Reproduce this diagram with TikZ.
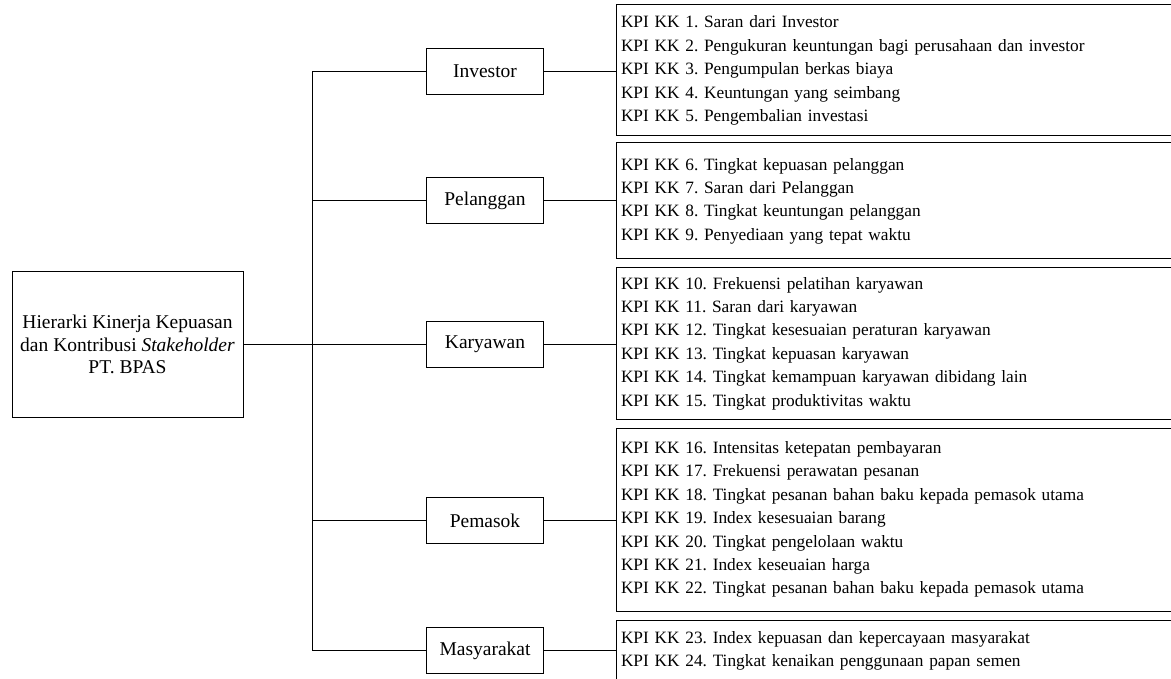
\documentclass[tikz,border=0pt]{standalone}
\usepackage{fontspec}
\setmainfont{Liberation Serif}
\frenchspacing
\begin{document}
\begin{tikzpicture}[x=1pt,y=-1pt,
  line width=1pt,
  rootbox/.style={draw, minimum width=231pt, minimum height=146pt, align=center, inner sep=0pt, font=\fontsize{19.5}{22.5}\selectfont},
  catbox/.style={draw, minimum width=117pt, minimum height=46pt, inner sep=0pt, font=\fontsize{19.5}{22.5}\selectfont},
  kpibox/.style={draw, anchor=north west, text width=560pt, align=left, inner xsep=5pt, inner ysep=0pt, font=\fontsize{17.3}{23.4}\selectfont},
  link/.style={line width=1pt}]
\clip (0,0) rectangle (1171,679);

% root
\node[rootbox] (root) at (127.5,344.5) {Hierarki Kinerja Kepuasan\\dan Kontribusi \textit{Stakeholder}\\PT. BPAS};

% categories
\node[catbox] (inv) at (485,71.5) {Investor};
\node[catbox] (pel) at (485,200.5) {Pelanggan};
\node[catbox] (kar) at (485,344.5) {Karyawan};
\node[catbox] (pem) at (485,520.5) {Pemasok};
\node[catbox] (mas) at (485,650.5) {Masyarakat};

% KPI boxes
\node[kpibox, minimum height=131pt] (k1) at (615.5,4.5) {KPI KK 1. Saran dari Investor\\
KPI KK 2. Pengukuran keuntungan bagi perusahaan dan investor\\
KPI KK 3. Pengumpulan berkas biaya\\
KPI KK 4. Keuntungan yang seimbang\\
KPI KK 5. Pengembalian investasi};

\node[kpibox, minimum height=116pt] (k2) at (615.5,142.5) {KPI KK 6. Tingkat kepuasan pelanggan\\
KPI KK 7. Saran dari Pelanggan\\
KPI KK 8. Tingkat keuntungan pelanggan\\
KPI KK 9. Penyediaan yang tepat waktu};

\node[kpibox, minimum height=151pt] (k3) at (615.5,267.5) {KPI KK 10. Frekuensi pelatihan karyawan\\
KPI KK 11. Saran dari karyawan\\
KPI KK 12. Tingkat kesesuaian peraturan karyawan\\
KPI KK 13. Tingkat kepuasan karyawan\\
KPI KK 14. Tingkat kemampuan karyawan dibidang lain\\
KPI KK 15. Tingkat produktivitas waktu};

\node[kpibox, minimum height=183pt] (k4) at (615.5,427.5) {KPI KK 16. Intensitas ketepatan pembayaran\\
KPI KK 17. Frekuensi perawatan pesanan\\
KPI KK 18. Tingkat pesanan bahan baku kepada pemasok utama\\
KPI KK 19. Index kesesuaian barang\\
KPI KK 20. Tingkat pengelolaan waktu\\
KPI KK 21. Index keseuaian harga\\
KPI KK 22. Tingkat pesanan bahan baku kepada pemasok utama};

\node[kpibox, minimum height=62pt] (k5) at (615.5,619.5) {KPI KK 23. Index kepuasan dan kepercayaan masyarakat\\
KPI KK 24. Tingkat kenaikan penggunaan papan semen};

% trunk
\coordinate (ttop) at (312.5,71.5);
\coordinate (tbot) at (312.5,650.5);
\draw[link] (ttop) -- (tbot);
\draw[link] (root.east) -- (root.east -| ttop);

% branches
\foreach \c in {inv,pel,kar,pem,mas}{
  \draw[link] (\c.west -| ttop) -- (\c.west);
}
\draw[link] (inv.east) -- (inv.east -| k1.west);
\draw[link] (pel.east) -- (pel.east -| k2.west);
\draw[link] (kar.east) -- (kar.east -| k3.west);
\draw[link] (pem.east) -- (pem.east -| k4.west);
\draw[link] (mas.east) -- (mas.east -| k5.west);
\end{tikzpicture}
\end{document}
